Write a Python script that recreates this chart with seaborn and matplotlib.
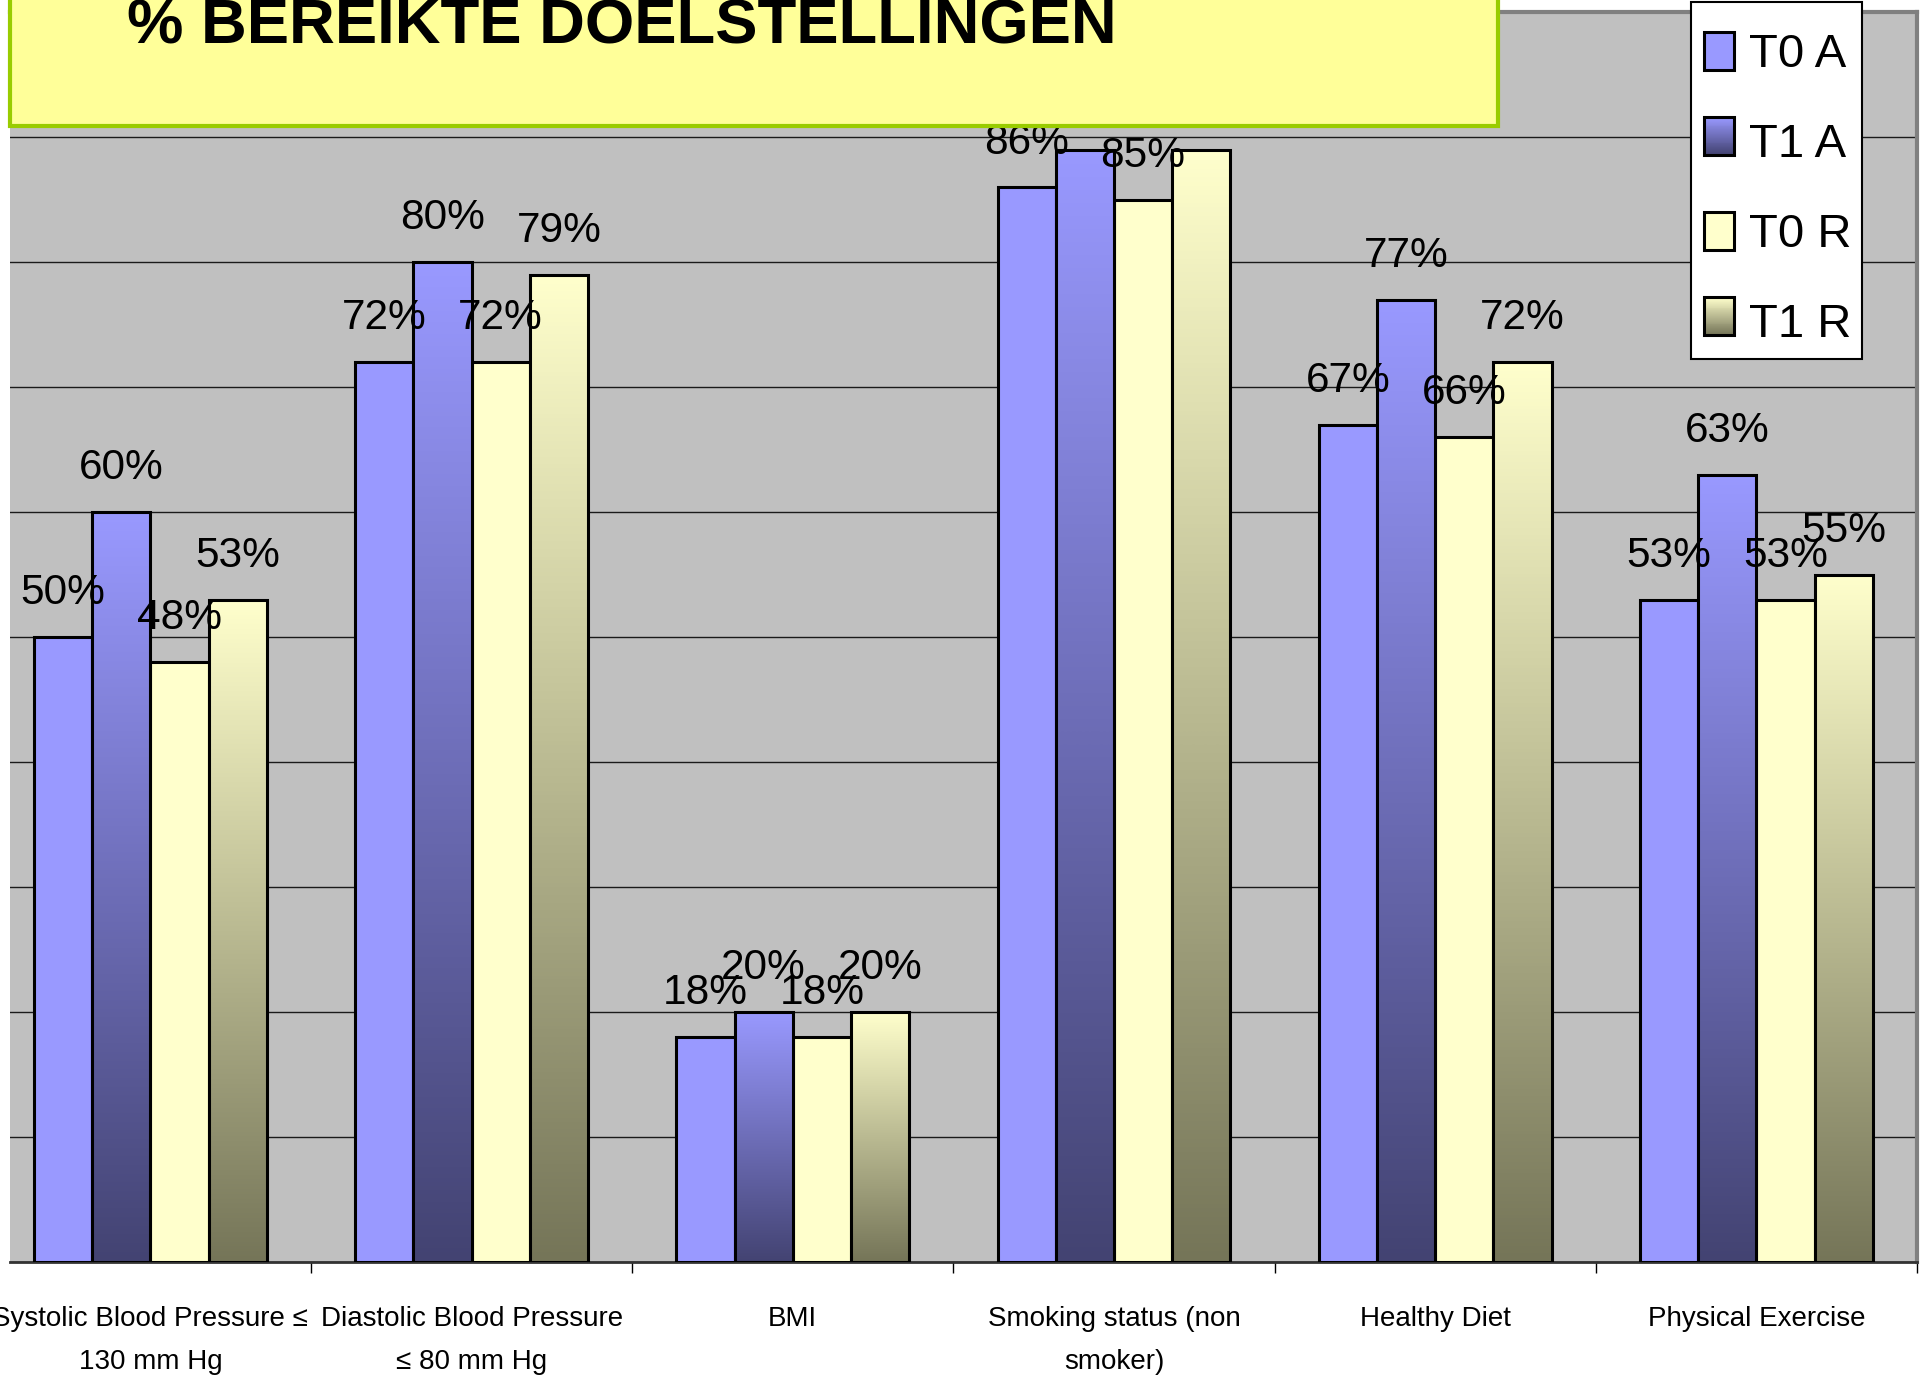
import matplotlib
matplotlib.use("Agg")
import matplotlib.pyplot as plt
import seaborn as sns
import numpy as np
import pandas as pd
from matplotlib.patches import Rectangle, Patch
from matplotlib.colors import LinearSegmentedColormap, to_rgb

# ---------------- data ----------------
categories = ["Systolic Blood Pressure ≤\n130 mm Hg",
              "Diastolic Blood Pressure\n≤ 80 mm Hg",
              "BMI",
              "Smoking status (non\nsmoker)",
              "Healthy Diet",
              "Physical Exercise"]
series = ["T0 A", "T1 A", "T0 R", "T1 R"]
t0_a = [50, 72, 18, 86, 67, 53]
t1_a = [60, 80, 20, 89, 77, 63]
t0_r = [48, 72, 18, 85, 66, 53]
t1_r = [53, 79, 20, 89, 72, 55]
title = "% BEREIKTE DOELSTELLINGEN"

# ---------------- styling ----------------
top_colors = {"T0 A": "#9999FF", "T1 A": "#9999FF", "T0 R": "#FFFFCC", "T1 R": "#FFFFCC"}
bottom_colors = {"T1 A": "#434372", "T1 R": "#757558"}

fam = ["Liberation Sans", "DejaVu Sans"]
lab_fs, leg_fs, cat_fs = 30.5, 34, 20

W, H = 1929, 1381
fig = plt.figure(figsize=(W / 100, H / 100), dpi=100, facecolor="white")
ax = fig.add_axes([10 / W, 1 - 1262 / H, (1917 - 10) / W, (1262 - 12) / H])
ax.set_facecolor("#C0C0C0")

df = pd.DataFrame({
    "category": categories * 4,
    "series": sum([[s] * len(categories) for s in series], []),
    "value": t0_a + t1_a + t0_r + t1_r,
})

sns.barplot(data=df, x="category", y="value", hue="series", order=categories,
            hue_order=series, palette=[top_colors[s] for s in series],
            saturation=1, width=0.725, gap=0, edgecolor="black", linewidth=2.2,
            errorbar=None, legend=False, ax=ax, zorder=3)

# gradients + labels
grad = np.linspace(0, 1, 256).reshape(-1, 1)
for s, cont in zip(series, ax.containers):
    for p in cont.patches:
        x, w, h = p.get_x(), p.get_width(), p.get_height()
        if s in bottom_colors:
            cmap = LinearSegmentedColormap.from_list(s, [bottom_colors[s], top_colors[s]])
            p.set_facecolor("none")
            p.set_zorder(3.5)
            im = ax.imshow(grad, extent=[x, x + w, 0, h], origin="lower", cmap=cmap,
                           aspect="auto", zorder=3, interpolation="bilinear")
            im.set_clip_path(p)
        ax.annotate(f"{h:.0f}%", xy=(x + w / 2, h), xytext=(0, 23.5),
                    textcoords="offset points", ha="center", va="baseline",
                    fontsize=lab_fs, family=fam, color="black", zorder=6,
                    annotation_clip=False)

ax.set_xlim(-0.437, 5.5)
ax.set_ylim(0, 100)

# grid / axes
ax.set_yticks(np.arange(0, 101, 10))
ax.yaxis.grid(True, color="#1a1a1a", linewidth=1)
ax.xaxis.grid(False)
ax.set_axisbelow(True)
ax.tick_params(axis="y", length=0, labelleft=False)
ax.set_xticks(range(len(categories)))
ax.set_xticklabels(categories, fontsize=cat_fs, family=fam, linespacing=1.85)
ax.tick_params(axis="x", which="major", length=0, pad=32)
ax.set_xticks(np.arange(0.5, 6, 1), minor=True)
ax.tick_params(axis="x", which="minor", length=8, width=1, color="black", direction="out")
ax.set_xlabel("")
ax.set_ylabel("")
ax.spines["left"].set_visible(False)
for side in ("top", "right"):
    ax.spines[side].set_color("#808080")
    ax.spines[side].set_linewidth(3)
ax.spines["bottom"].set_color("#333333")
ax.spines["bottom"].set_linewidth(2)

# title box
box = Rectangle((10 / W, 1 - 126 / H), (1498 - 10) / W, 0.2, transform=fig.transFigure,
                facecolor="#FFFF99", edgecolor="#99CC00", linewidth=3, zorder=10)
fig.add_artist(box)
fig.text(127 / W, 1 - 43 / H, title, ha="left", va="baseline", fontsize=45.6,
         fontweight="bold", family=["Liberation Sans", "DejaVu Sans"], color="black", zorder=11)


# legend with gradient handles
class GradientHandler:
    def __init__(self, top, bottom):
        self.top = np.array(to_rgb(top))
        self.bottom = np.array(to_rgb(bottom))

    def legend_artist(self, legend, orig_handle, fontsize, handlebox):
        x0, y0 = handlebox.xdescent, handlebox.ydescent
        w, h = handlebox.width, handlebox.height
        n = 40
        tr = handlebox.get_transform()
        for i in range(n):
            t = i / (n - 1)
            c = self.bottom * (1 - t) + self.top * t
            handlebox.add_artist(Rectangle((x0, y0 + h * i / n), w, h / n * 1.05,
                                           facecolor=c, edgecolor="none", transform=tr))
        outline = Rectangle((x0, y0), w, h, facecolor="none", edgecolor="black",
                            linewidth=2.2, transform=tr)
        handlebox.add_artist(outline)
        return outline


legbox = Rectangle((1691 / W, 1 - 359 / H), (1862 - 1691) / W, (359 - 2) / H,
                   transform=fig.transFigure, facecolor="white", edgecolor="black",
                   linewidth=1.5, zorder=11)
fig.add_artist(legbox)

handles = [Patch(facecolor=top_colors[s], edgecolor="black", linewidth=2.2) for s in series]
hmap = {handles[1]: GradientHandler(top_colors["T1 A"], bottom_colors["T1 A"]),
        handles[3]: GradientHandler(top_colors["T1 R"], bottom_colors["T1 R"])}
leg = fig.legend(handles, series, loc="upper left", bbox_to_anchor=(1704 / W, 1 - 32 / H),
                 bbox_transform=fig.transFigure, prop={"family": fam, "size": leg_fs},
                 frameon=False, handlelength=0.64, handleheight=0.85, handletextpad=0.32,
                 labelspacing=0.95, borderpad=0, borderaxespad=0, handler_map=hmap)
leg.set_zorder(12)

fig.savefig("out.png", dpi=100, facecolor="white")
